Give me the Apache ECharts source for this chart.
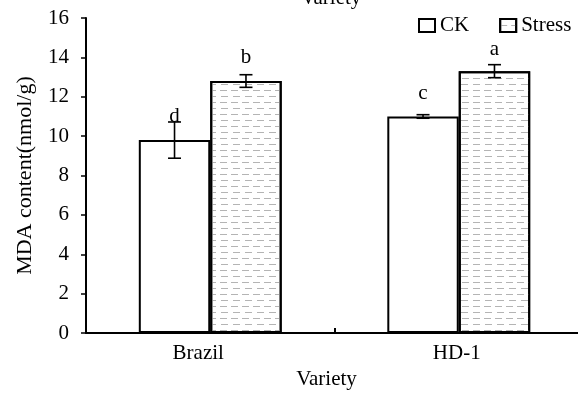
<!DOCTYPE html>
<html>
<head>
<meta charset="utf-8">
<script src="https://cdn.jsdelivr.net/npm/echarts@6/dist/echarts.min.js"></script>
<style>html,body{margin:0;padding:0;background:#fff;overflow:hidden;}#c{width:584px;height:395px;}</style>
</head>
<body>
<div id="c"></div>
<script>
const categories = ['Brazil', 'HD-1'];
const seriesNames = ['CK', 'Stress'];
const ckValues = [9.8, 11.0];
const ckErrors = [0.92, 0.09];
const stressValues = [12.8, 13.3];
const stressErrors = [0.32, 0.33];
const ckLetters = ['d', 'c'];
const stressLetters = ['b', 'a'];
const ckLetterY = [11.0, 12.15];
const stressLetterY = [14.0, 14.4];
const yTicks = [0, 2, 4, 6, 8, 10, 12, 14, 16];

const FONT = 'Liberation Serif';
const GAP = 0.425;

const decal = {
  symbol: 'rect',
  symbolSize: 1,
  dashArrayX: [[7, 4], [0, 5, 7, 0]],
  dashArrayY: [1, 5],
  color: '#b4b4b4',
  rotation: 0
};

function errSeries(values, errors, letters, letterY, side) {
  return {
    type: 'custom',
    z: 10,
    silent: true,
    data: values.map((v, i) => [i, v, errors[i], letterY[i]]),
    renderItem: function (params, api) {
      const i = api.value(0), v = api.value(1), e = api.value(2), ly = api.value(3);
      const band = api.size([1, 0])[0];
      const bw = band * (1 - GAP) / 2;
      const c = api.coord([i, v]);
      const x = c[0] + side * bw / 2;
      const top = api.coord([i, v + e])[1];
      const bot = api.coord([i, v - e])[1];
      const ty = api.coord([i, ly])[1];
      const cap = 6.5;
      const st = { stroke: '#000', lineWidth: 1.6 };
      return {
        type: 'group',
        children: [
          { type: 'line', shape: { x1: x, y1: top, x2: x, y2: bot }, style: st },
          { type: 'line', shape: { x1: x - cap, y1: top, x2: x + cap, y2: top }, style: st },
          { type: 'line', shape: { x1: x - cap, y1: bot, x2: x + cap, y2: bot }, style: st },
          { type: 'text', style: { text: letters[params.dataIndex], x: x, y: ty, align: 'center', verticalAlign: 'middle', font: '21px "' + FONT + '"', fill: '#000' } }
        ]
      };
    }
  };
}

const chart = echarts.init(document.getElementById('c'), null, { renderer: 'canvas' });
chart.setOption({
  backgroundColor: '#fff',
  animation: false,
  textStyle: { fontFamily: FONT, color: '#000' },
  title: {
    text: 'Variety',
    left: 326, top: -17, textAlign: 'center',
    textStyle: { fontFamily: FONT, fontSize: 21, fontWeight: 'normal', color: '#000' }
  },
  legend: {
    data: seriesNames,
    left: 413, top: 10,
    itemWidth: 16, itemHeight: 13, itemGap: 30,
    icon: 'rect',
    textStyle: { fontFamily: FONT, fontSize: 21, color: '#000' }
  },
  grid: { left: 86, top: 18, bottom: 57, width: 497 },
  xAxis: {
    type: 'category',
    data: categories,
    name: 'Variety',
    nameLocation: 'middle',
    nameGap: 33,
    nameTextStyle: { fontFamily: FONT, fontSize: 21, color: '#000', padding: [0, 16, 0, 0] },
    axisLine: { lineStyle: { color: '#000', width: 2 } },
    axisTick: { show: true, inside: true, length: 5, interval: 0, lineStyle: { color: '#000', width: 2 } },
    axisLabel: {
      fontFamily: FONT, fontSize: 21, color: '#000', margin: 10,
      formatter: function (v, i) { return i === 0 ? '{a|' + v + '}' : '{b|' + v + '}'; },
      rich: {
        a: { fontFamily: FONT, fontSize: 21, color: '#000', padding: [0, 24, 0, 0] },
        b: { fontFamily: FONT, fontSize: 21, color: '#000', padding: [0, 4, 0, 0] }
      }
    }
  },
  yAxis: {
    type: 'value',
    min: yTicks[0], max: yTicks[yTicks.length - 1], interval: 2,
    name: 'MDA content(nmol/g)',
    nameLocation: 'middle',
    nameGap: 50,
    nameTextStyle: { fontFamily: FONT, fontSize: 22, color: '#000', padding: [0, 0, 0, 0] },
    axisLine: { show: true, lineStyle: { color: '#000', width: 2 } },
    axisTick: { show: true, length: 5, lineStyle: { color: '#000', width: 1.5 } },
    splitLine: { show: false },
    axisLabel: { fontFamily: FONT, fontSize: 21, color: '#000', margin: 17 }
  },
  series: [
    {
      name: seriesNames[0], type: 'bar', data: ckValues,
      barGap: '0%', barCategoryGap: (GAP * 100) + '%',
      itemStyle: { color: '#fff', borderColor: '#000', borderWidth: 2 }
    },
    {
      name: seriesNames[1], type: 'bar', data: stressValues,
      barGap: '0%', barCategoryGap: (GAP * 100) + '%',
      itemStyle: { color: '#fff', borderColor: '#000', borderWidth: 2, decal: decal }
    },
    errSeries(ckValues, ckErrors, ckLetters, ckLetterY, -1),
    errSeries(stressValues, stressErrors, stressLetters, stressLetterY, 1)
  ]
});
</script>
</body>
</html>
